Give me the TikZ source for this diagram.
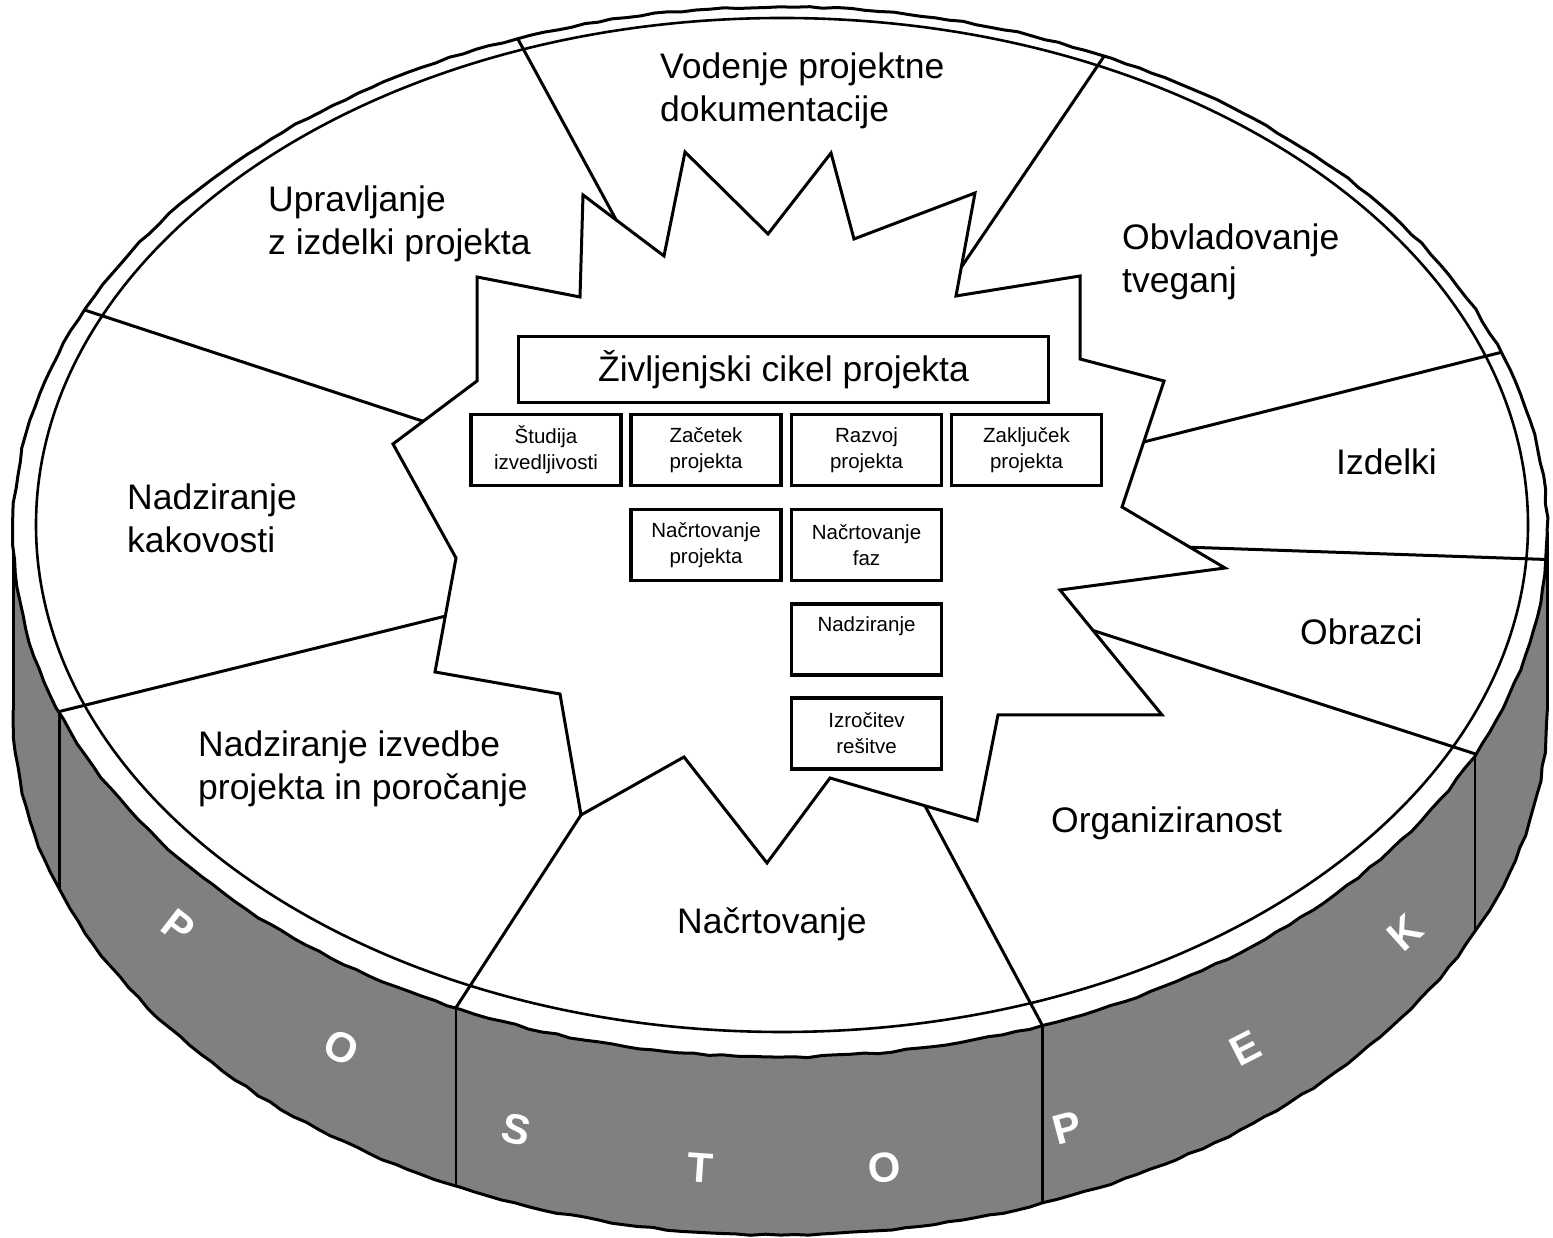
\documentclass[tikz,border=0pt]{standalone}
\usepackage{fontspec}
\setmainfont{Liberation Sans}
\usetikzlibrary{calc,decorations.pathmorphing}

\begin{document}
\begin{tikzpicture}[x=1pt,y=1pt]
\tikzstyle{rim}=[line width=3pt]
\tikzstyle{wavy}=[decorate,decoration={random steps,segment length=14pt,amplitude=0.9pt}]
\tikzstyle{cikel}=[draw,line width=3pt,minimum width=530pt,minimum height=66pt,inner sep=0pt,font=\fontsize{35.5}{43}\selectfont]
\tikzstyle{phase}=[draw,line width=3.5pt,minimum width=150pt,minimum height=71pt,inner sep=0pt,align=center,font=\fontsize{20.5}{26}\selectfont]
\tikzstyle{area}=[anchor=base west,inner sep=0pt,align=left,font=\fontsize{35.5}{43.5}\selectfont]
\tikzstyle{letter}=[text=white,inner sep=0pt,font=\fontsize{42}{42}\selectfont\bfseries]

\useasboundingbox (0,0) rectangle (1553,1238);
\pgfmathsetseed{7}

% centres of the top, the bottom and the inner rim
\coordinate (top) at (780,706);
\coordinate (bot) at (780,528);
\coordinate (inner) at (782,713);

% side of the cylinder
\fill[gray] (13,706) -- (13,528) arc[start angle=180,end angle=360,x radius=767,y radius=525] -- (1547,706) -- cycle;
\draw[rim,wavy] (13,528) arc[start angle=180,end angle=360,x radius=767,y radius=525];
\draw[rim] (13,706) -- (13,528);
\draw[rim] (1547,706) -- (1547,528);
\foreach \a in {200,245,290,335}
  \draw[line width=2.5pt] ($(top)+(\a:767pt and 525pt)$) -- ++(0,-178);

% top of the cylinder
\filldraw[fill=white,rim,wavy] (top) ellipse[x radius=767,y radius=525];
\draw[line width=2.6pt] (inner) ellipse[x radius=746,y radius=507];

% star
\foreach \x/\y [count=\i] in {580/941,583/1043,664/982,685/1086,768/1004,831/1085,854/999,
  975/1045,956/942,1080/962,1080/879,1164/857,1122/731,1225/670,1060/648,1162/523,
  998/523,977/417,830/460,767/375,684/481,581/423,560/544,435/566,456/680,393/794,
  477/857,477/961}
  \coordinate (s\i) at (\x,\y);

% sectors
\draw[rim] ($(top)+(110:767pt and 525pt)$) -- ($(s2)!0.41!(s3)$);
\draw[rim] ($(top)+(65:767pt and 525pt)$) -- ($(s8)!0.72!(s9)$);
\draw[rim] ($(top)+(20:767pt and 525pt)$) -- ($(s12)!0.484!(s13)$);
\draw[rim] ($(top)+(357:767pt and 525pt)$) -- ($(s13)!0.66!(s14)$);
\draw[rim] ($(top)+(335:767pt and 525pt)$) -- ($(s15)!0.324!(s16)$);
\draw[rim] ($(top)+(290:767pt and 525pt)$) -- ($(s18)!0.354!(s19)$);
\draw[rim] ($(top)+(245:767pt and 525pt)$) -- (s22);
\draw[rim] ($(top)+(200:767pt and 525pt)$) -- ($(s24)!0.49!(s25)$);
\draw[rim] ($(top)+(155:767pt and 525pt)$) -- ($(s26)!0.36!(s27)$);

\filldraw[fill=white,rim,line join=miter] (s1) \foreach \i in {2,...,28}{ -- (s\i)} -- cycle;

% life cycle
\node[cikel] (zivljenje) at (783.5,868.5) {Življenjski cikel projekta};
\node[phase] (studija) at (546,788) {Študija\\izvedljivosti};
\node[phase] (zacetek) at (706,788) {Začetek\\projekta};
\node[phase] (razvoj) at (866.5,788) {Razvoj\\projekta};
\node[phase] (zakljucek) at (1026.5,788) {Zaključek\\projekta};
\node[phase] (nacrtprojekt) at (706,693) {Načrtovanje\\projekta};
\node[phase] (nacrtfaz) at (866.5,693) {Načrtovanje\\faz};
\node[phase] (nadzor) at (866.5,598.5) {Nadziranje\\\phantom{p}};
\node[phase] (izrocitev) at (866.5,504.5) {Izročitev\\rešitve};

% areas (base = last line)
\node[area] (vodenje) at (660,1116) {Vodenje projektne\\dokumentacije};
\node[area] (upravljanje) at (268,983) {Upravljanje\\z izdelki projekta};
\node[area] (tveganja) at (1122,945) {Obvladovanje\\tveganj};
\node[area] (izdelki) at (1336,763) {Izdelki};
\node[area] (obrazci) at (1300,593) {Obrazci};
\node[area] (organizacija) at (1051,405) {Organiziranost};
\node[area] (nacrtovanje) at (677,304) {Načrtovanje};
\node[area] (izvedba) at (198,438) {Nadziranje izvedbe\\projekta in poročanje};
\node[area] (kakovost) at (127,685) {Nadziranje\\kakovosti};

% postopek
\node[letter,rotate=-38] (p1) at (178,311) {P};
\node[letter,rotate=-26] (o1) at (342,190) {O};
\node[letter,rotate=-13] (s1l) at (516,108) {S};
\node[letter,rotate=-4] (t1) at (700,70) {T};
\node[letter,rotate=5] (o2) at (885,70) {O};
\node[letter,rotate=15] (p2) at (1067,110) {P};
\node[letter,rotate=27] (e1) at (1245,190) {E};
\node[letter,rotate=42] (k1) at (1405,305) {K};
\end{tikzpicture}
\end{document}
